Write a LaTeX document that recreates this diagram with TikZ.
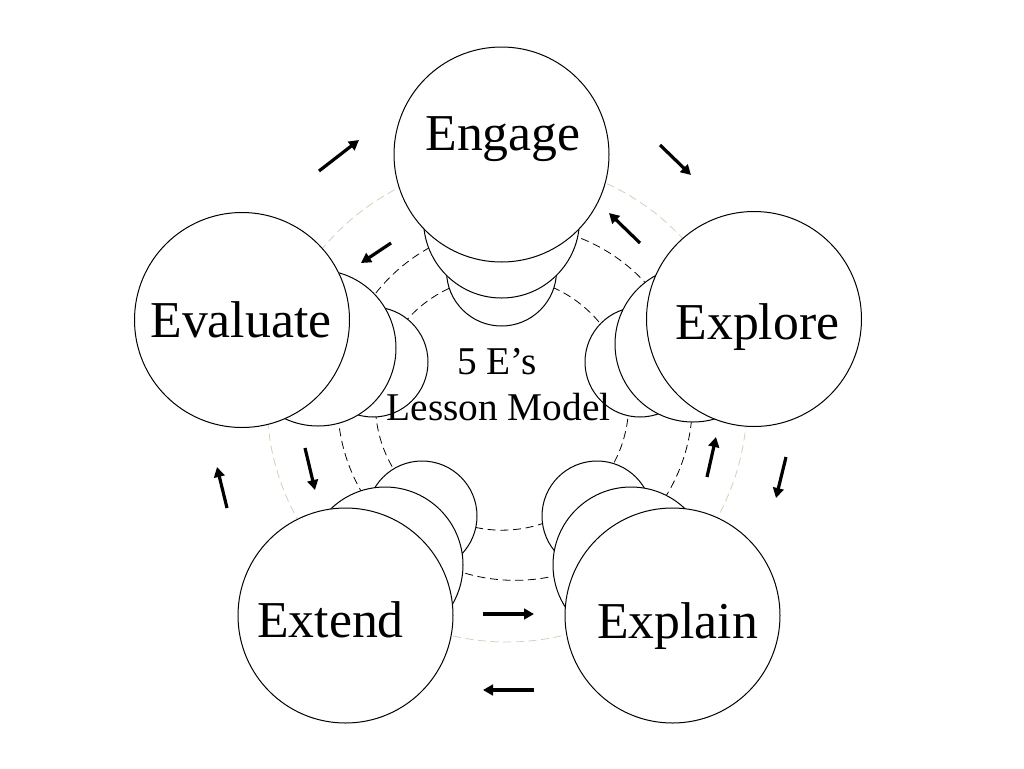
\documentclass[tikz,border=0pt]{standalone}
\usepackage{fontspec}
\setmainfont{Liberation Serif}
\usetikzlibrary{arrows.meta}
\definecolor{beige}{RGB}{214,208,186}
\begin{document}
\begin{tikzpicture}[x=0.75pt,y=-0.75pt,
  ring/.style={draw=black, line width=0.75pt, fill=white, circle, inner sep=0pt},
  bigc/.style={ring, minimum size=161.25pt},
  midc/.style={ring, minimum size=117pt},
  smallc/.style={ring, minimum size=82.5pt},
  etext/.style={anchor=base, inner sep=0pt, font=\fontsize{38.8}{40}\selectfont},
  ctext/.style={anchor=base, inner sep=0pt, font=\fontsize{29.5}{34.5}\selectfont},
  guide/.style={draw=black, line width=0.6pt, dash pattern=on 6pt off 3.5pt},
  guideouter/.style={draw=beige, line width=0.6pt, dash pattern=on 6pt off 3.5pt},
  flow/.style={line width=2.4pt, -{Triangle[length=7.5pt,width=8pt]}}
]
\useasboundingbox (0,0) rectangle (1024,768);
\fill[white] (0,0) rectangle (1024,768);

% dashed guide rings
\coordinate (Oin) at (502,403.5);
\coordinate (Omid) at (515,403);
\coordinate (Oout) at (507,402);
\draw[guideouter] (Oout) circle[radius=180pt];
\draw[guide] (Omid) circle[radius=133pt];
\draw[guide] (Oin) circle[radius=95pt];

% Engage
\node[smallc] (engS) at (501.5,271) {};
\node[midc] (engM) at (501.5,220) {};
\node[bigc] (engage) at (501.5,154.5) {};
% Explore
\node[smallc] (expS) at (640,362) {};
\node[midc] (expM) at (693,344) {};
\node[bigc] (explore) at (754,319) {};
% Evaluate
\node[smallc] (evaS) at (373,362) {};
\node[midc] (evaM) at (318,348) {};
\node[bigc] (evaluate) at (242,320) {};
% Extend
\node[smallc] (extS) at (422,516) {};
\node[midc] (extM) at (385,565) {};
\node[bigc] (extend) at (345.5,615.5) {};
% Explain
\node[smallc] (expnS) at (597,516) {};
\node[midc] (expnM) at (631,565) {};
\node[bigc] (explain) at (672.5,615.5) {};

% labels
\node[etext] (engageT) at (503,150) {Engage};
\node[etext] (exploreT) at (757.5,339) {Explore};
\node[etext] (evaluateT) at (241,337) {Evaluate};
\node[etext] (extendT) at (330.5,637) {Extend};
\node[etext] (explainT) at (677.5,638) {Explain};

% centre label
\node[ctext] (model1) at (497,374) {5 E’s};
\node[ctext] (model2) at (498.5,420) {Lesson Model};

% arrows
\coordinate (a1s) at (319,171); \coordinate (a1e) at (359,140);
\coordinate (a2s) at (660,145); \coordinate (a2e) at (691,175);
\coordinate (a3s) at (640,243); \coordinate (a3e) at (609,213);
\coordinate (a4s) at (391,243); \coordinate (a4e) at (361,263);
\coordinate (a5s) at (305,448); \coordinate (a5e) at (315,490);
\coordinate (a6s) at (227,508); \coordinate (a6e) at (217,467);
\coordinate (a7s) at (707,477); \coordinate (a7e) at (716,437);
\coordinate (a8s) at (786,457); \coordinate (a8e) at (776,498);
\coordinate (a9s) at (483,614); \coordinate (a9e) at (534,614);
\coordinate (a10s) at (534,690); \coordinate (a10e) at (483,690);
\foreach \i in {1,...,10} \draw[flow] (a\i s) -- (a\i e);
\end{tikzpicture}
\end{document}
